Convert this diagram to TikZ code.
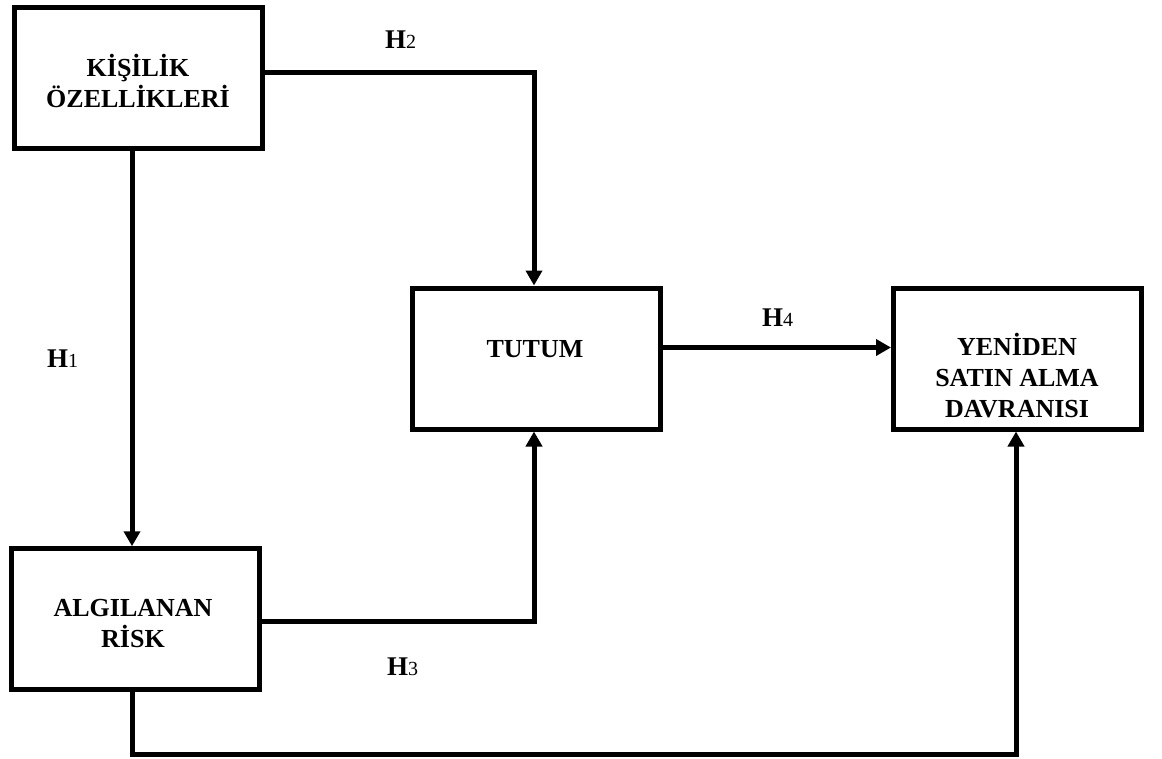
\documentclass[tikz,border=0pt]{standalone}
\usepackage{fontspec}
\setmainfont{Liberation Serif}
\usetikzlibrary{arrows.meta}
\begin{document}
\begin{tikzpicture}[x=1pt,y=-1pt,
  box/.style={draw, line width=5pt, minimum width=248pt, minimum height=141pt, inner sep=0pt},
  boxtext/.style={font=\fontsize{26}{31}\selectfont\bfseries, align=center, inner sep=0pt, anchor=base},
  conn/.style={line width=5pt, -{Triangle[length=15pt,width=16pt]}},
  hyp/.style={inner sep=0pt, anchor=base west, font=\fontsize{27}{27}\selectfont},
  digit/.style={}]
\fill[white] (0,0) rectangle (1162,758);
\useasboundingbox (0,0) rectangle (1162,758);

% construct boxes
\node[box] (kis) at (138.5,78) {};
\node[box] (tut) at (536,358.5) {};
\node[box] (yen) at (1017.5,358.5) {};
\node[box] (alg) at (135.25,619.25) {};

% box captions (anchored on the baseline of their last line)
\node[boxtext] (kisT) at (138,107) {KİŞİLİK\\ÖZELLİKLERİ};
\node[boxtext] (tutT) at (535,357) {TUTUM};
\node[boxtext] (yenT) at (1017,417) {YENİDEN\\SATIN ALMA\\DAVRANISI};
\node[boxtext] (algT) at (133,647) {ALGILANAN\\RİSK};

% hypothesised paths
\draw[conn] ([yshift=6pt]kis.east) -| ([xshift=-2pt]tut.north);
\draw[conn] ([xshift=-6.5pt]kis.south) -- ([xshift=-6.5pt]kis.south |- alg.north);
\draw[conn] ([yshift=-2pt]alg.east) -| ([xshift=-2pt]tut.south);
\draw[conn] ([yshift=11pt]tut.east) -- ([yshift=11pt]tut.east -| yen.west);
\coordinate (floor) at (0,754.5);
\draw[conn] ([xshift=-3.25pt]alg.south) -- ([xshift=-3.25pt]alg.south |- floor) -| ([xshift=-1.5pt]yen.south);

% hypothesis labels
\newcommand\hypnum[1]{\textbf{H}{\fontsize{20}{20}\selectfont #1}}
\node[hyp] (h1) at (47,367) {\hypnum{1}};
\node[hyp] (h2) at (385,48) {\hypnum{2}};
\node[hyp] (h3) at (387,675) {\hypnum{3}};
\node[hyp] (h4) at (762,326) {\hypnum{4}};
\end{tikzpicture}
\end{document}
